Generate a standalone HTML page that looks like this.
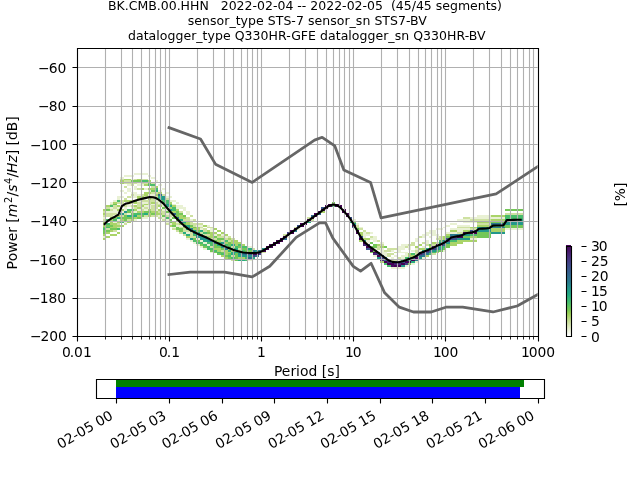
<!DOCTYPE html>
<html lang="en"><head><meta charset="utf-8"><title>BK.CMB.00.HHN PPSD</title>
<style>
html,body{margin:0;padding:0;background:#fff;}
body{width:640px;height:480px;overflow:hidden;}
svg{display:block;}
text{font-family:"DejaVu Sans","Liberation Sans",sans-serif;font-size:13.889px;fill:#000;}
.t9{font-size:12.5px;}
.g{stroke:#b0b0b0;stroke-width:1.111;fill:none;}
.k{stroke:#000;stroke-width:1.111;fill:none;}
.nm{stroke:#666;stroke-width:2.778;fill:none;stroke-linejoin:round;stroke-linecap:square;}
.mean{stroke:#000;stroke-width:2.083;fill:none;stroke-linejoin:round;stroke-linecap:square;}
</style></head><body>
<svg width="640" height="480" viewBox="0 0 640 480" role="img" aria-label="Probabilistic power spectral density of BK.CMB.00.HHN">
<defs><clipPath id="axclip"><rect x="76.8" y="48" width="460.8" height="288"/></clipPath>
<linearGradient id="cb" x1="0" y1="1" x2="0" y2="0">
<stop offset="0.000" stop-color="#ffffff"/>
<stop offset="0.037" stop-color="#f5f8eb"/>
<stop offset="0.073" stop-color="#e8f0d2"/>
<stop offset="0.110" stop-color="#dce8b9"/>
<stop offset="0.147" stop-color="#cde1a0"/>
<stop offset="0.183" stop-color="#beda87"/>
<stop offset="0.220" stop-color="#aad469"/>
<stop offset="0.253" stop-color="#96d055"/>
<stop offset="0.287" stop-color="#78c855"/>
<stop offset="0.333" stop-color="#5cc462"/>
<stop offset="0.393" stop-color="#3cb973"/>
<stop offset="0.453" stop-color="#23aa82"/>
<stop offset="0.527" stop-color="#23948c"/>
<stop offset="0.600" stop-color="#2a788e"/>
<stop offset="0.650" stop-color="#2f6c8e"/>
<stop offset="0.700" stop-color="#355f8d"/>
<stop offset="0.750" stop-color="#3b518b"/>
<stop offset="0.800" stop-color="#414487"/>
<stop offset="0.850" stop-color="#463480"/>
<stop offset="0.900" stop-color="#482475"/>
<stop offset="0.950" stop-color="#471365"/>
<stop offset="1.000" stop-color="#440154"/>
</linearGradient></defs>
<rect x="0" y="0" width="640" height="480" fill="#fff"/>
<g id="hist" shape-rendering="crispEdges">
<rect x="103" y="238" width="3" height="2" fill="#aad469"/>
<rect x="103" y="236" width="3" height="2" fill="#e9f1d4"/>
<rect x="103" y="234" width="3" height="2" fill="#aad469"/>
<rect x="103" y="230" width="3" height="4" fill="#74c757"/>
<rect x="103" y="228" width="3" height="2" fill="#49bd6c"/>
<rect x="103" y="227" width="3" height="1" fill="#74c757"/>
<rect x="103" y="225" width="3" height="2" fill="#aad469"/>
<rect x="103" y="223" width="3" height="2" fill="#cee1a1"/>
<rect x="103" y="221" width="3" height="2" fill="#aad469"/>
<rect x="103" y="219" width="3" height="2" fill="#cee1a1"/>
<rect x="103" y="217" width="3" height="2" fill="#e9f1d4"/>
<rect x="103" y="215" width="3" height="2" fill="#cee1a1"/>
<rect x="103" y="213" width="3" height="2" fill="#aad469"/>
<rect x="103" y="211" width="3" height="2" fill="#cee1a1"/>
<rect x="103" y="209" width="3" height="2" fill="#aad469"/>
<rect x="106" y="236" width="4" height="2" fill="#aad469"/>
<rect x="106" y="232" width="4" height="2" fill="#aad469"/>
<rect x="106" y="230" width="4" height="2" fill="#74c757"/>
<rect x="106" y="228" width="4" height="2" fill="#cee1a1"/>
<rect x="106" y="227" width="4" height="1" fill="#49bd6c"/>
<rect x="106" y="225" width="4" height="2" fill="#74c757"/>
<rect x="106" y="223" width="4" height="2" fill="#49bd6c"/>
<rect x="106" y="219" width="4" height="2" fill="#49bd6c"/>
<rect x="106" y="213" width="4" height="4" fill="#cee1a1"/>
<rect x="106" y="211" width="4" height="2" fill="#e9f1d4"/>
<rect x="106" y="209" width="4" height="2" fill="#74c757"/>
<rect x="106" y="207" width="4" height="2" fill="#cee1a1"/>
<rect x="106" y="205" width="4" height="2" fill="#aad469"/>
<rect x="110" y="234" width="3" height="2" fill="#aad469"/>
<rect x="110" y="230" width="3" height="2" fill="#aad469"/>
<rect x="110" y="228" width="3" height="2" fill="#74c757"/>
<rect x="110" y="227" width="3" height="1" fill="#aad469"/>
<rect x="110" y="225" width="3" height="2" fill="#74c757"/>
<rect x="110" y="217" width="3" height="8" fill="#aad469"/>
<rect x="110" y="213" width="3" height="4" fill="#cee1a1"/>
<rect x="110" y="211" width="3" height="2" fill="#e9f1d4"/>
<rect x="110" y="209" width="3" height="2" fill="#cee1a1"/>
<rect x="110" y="207" width="3" height="2" fill="#e9f1d4"/>
<rect x="110" y="205" width="3" height="2" fill="#49bd6c"/>
<rect x="110" y="204" width="3" height="1" fill="#cee1a1"/>
<rect x="110" y="202" width="3" height="2" fill="#e9f1d4"/>
<rect x="113" y="234" width="4" height="2" fill="#aad469"/>
<rect x="113" y="230" width="4" height="2" fill="#cee1a1"/>
<rect x="113" y="228" width="4" height="2" fill="#74c757"/>
<rect x="113" y="223" width="4" height="5" fill="#aad469"/>
<rect x="113" y="221" width="4" height="2" fill="#e9f1d4"/>
<rect x="113" y="219" width="4" height="2" fill="#49bd6c"/>
<rect x="113" y="217" width="4" height="2" fill="#74c757"/>
<rect x="113" y="215" width="4" height="2" fill="#e9f1d4"/>
<rect x="113" y="213" width="4" height="2" fill="#cee1a1"/>
<rect x="113" y="209" width="4" height="4" fill="#e9f1d4"/>
<rect x="113" y="205" width="4" height="4" fill="#cee1a1"/>
<rect x="113" y="204" width="4" height="1" fill="#74c757"/>
<rect x="113" y="202" width="4" height="2" fill="#aad469"/>
<rect x="113" y="200" width="4" height="2" fill="#e9f1d4"/>
<rect x="117" y="232" width="3" height="2" fill="#aad469"/>
<rect x="117" y="228" width="3" height="2" fill="#49bd6c"/>
<rect x="117" y="227" width="3" height="1" fill="#cee1a1"/>
<rect x="117" y="225" width="3" height="2" fill="#aad469"/>
<rect x="117" y="223" width="3" height="2" fill="#cee1a1"/>
<rect x="117" y="221" width="3" height="2" fill="#aad469"/>
<rect x="117" y="219" width="3" height="2" fill="#e9f1d4"/>
<rect x="117" y="217" width="3" height="2" fill="#27ac80"/>
<rect x="117" y="215" width="3" height="2" fill="#aad469"/>
<rect x="117" y="211" width="3" height="2" fill="#e9f1d4"/>
<rect x="117" y="209" width="3" height="2" fill="#aad469"/>
<rect x="117" y="207" width="3" height="2" fill="#e9f1d4"/>
<rect x="117" y="205" width="3" height="2" fill="#aad469"/>
<rect x="117" y="202" width="3" height="2" fill="#cee1a1"/>
<rect x="117" y="200" width="3" height="2" fill="#49bd6c"/>
<rect x="117" y="196" width="3" height="4" fill="#e9f1d4"/>
<rect x="120" y="225" width="4" height="2" fill="#aad469"/>
<rect x="120" y="221" width="4" height="2" fill="#49bd6c"/>
<rect x="120" y="219" width="4" height="2" fill="#aad469"/>
<rect x="120" y="217" width="4" height="2" fill="#74c757"/>
<rect x="120" y="215" width="4" height="2" fill="#cee1a1"/>
<rect x="120" y="213" width="4" height="2" fill="#23978b"/>
<rect x="120" y="211" width="4" height="2" fill="#e9f1d4"/>
<rect x="120" y="209" width="4" height="2" fill="#aad469"/>
<rect x="120" y="204" width="4" height="3" fill="#e9f1d4"/>
<rect x="120" y="200" width="4" height="4" fill="#cee1a1"/>
<rect x="120" y="196" width="4" height="2" fill="#e9f1d4"/>
<rect x="120" y="190" width="4" height="2" fill="#e9f1d4"/>
<rect x="120" y="180" width="4" height="4" fill="#aad469"/>
<rect x="120" y="179" width="4" height="1" fill="#cee1a1"/>
<rect x="120" y="177" width="4" height="2" fill="#e9f1d4"/>
<rect x="124" y="223" width="3" height="2" fill="#cee1a1"/>
<rect x="124" y="221" width="3" height="2" fill="#e9f1d4"/>
<rect x="124" y="215" width="3" height="6" fill="#74c757"/>
<rect x="124" y="213" width="3" height="2" fill="#cee1a1"/>
<rect x="124" y="211" width="3" height="2" fill="#23978b"/>
<rect x="124" y="207" width="3" height="4" fill="#e9f1d4"/>
<rect x="124" y="205" width="3" height="2" fill="#cee1a1"/>
<rect x="124" y="204" width="3" height="1" fill="#e9f1d4"/>
<rect x="124" y="200" width="3" height="2" fill="#aad469"/>
<rect x="124" y="198" width="3" height="2" fill="#cee1a1"/>
<rect x="124" y="192" width="3" height="2" fill="#e9f1d4"/>
<rect x="124" y="186" width="3" height="2" fill="#cee1a1"/>
<rect x="124" y="180" width="3" height="4" fill="#cee1a1"/>
<rect x="124" y="179" width="3" height="1" fill="#aad469"/>
<rect x="124" y="175" width="3" height="2" fill="#e9f1d4"/>
<rect x="127" y="221" width="4" height="2" fill="#aad469"/>
<rect x="127" y="219" width="4" height="2" fill="#cee1a1"/>
<rect x="127" y="217" width="4" height="2" fill="#74c757"/>
<rect x="127" y="215" width="4" height="2" fill="#27ac80"/>
<rect x="127" y="213" width="4" height="2" fill="#e9f1d4"/>
<rect x="127" y="211" width="4" height="2" fill="#74c757"/>
<rect x="127" y="209" width="4" height="2" fill="#49bd6c"/>
<rect x="127" y="204" width="4" height="3" fill="#e9f1d4"/>
<rect x="127" y="202" width="4" height="2" fill="#cee1a1"/>
<rect x="127" y="200" width="4" height="2" fill="#aad469"/>
<rect x="127" y="196" width="4" height="2" fill="#cee1a1"/>
<rect x="127" y="188" width="4" height="4" fill="#e9f1d4"/>
<rect x="127" y="184" width="4" height="2" fill="#e9f1d4"/>
<rect x="127" y="180" width="4" height="4" fill="#cee1a1"/>
<rect x="127" y="179" width="4" height="1" fill="#aad469"/>
<rect x="127" y="175" width="4" height="2" fill="#e9f1d4"/>
<rect x="131" y="219" width="3" height="2" fill="#aad469"/>
<rect x="131" y="217" width="3" height="2" fill="#74c757"/>
<rect x="131" y="215" width="3" height="2" fill="#49bd6c"/>
<rect x="131" y="213" width="3" height="2" fill="#74c757"/>
<rect x="131" y="211" width="3" height="2" fill="#cee1a1"/>
<rect x="131" y="209" width="3" height="2" fill="#49bd6c"/>
<rect x="131" y="207" width="3" height="2" fill="#e9f1d4"/>
<rect x="131" y="205" width="3" height="2" fill="#cee1a1"/>
<rect x="131" y="202" width="3" height="2" fill="#cee1a1"/>
<rect x="131" y="200" width="3" height="2" fill="#aad469"/>
<rect x="131" y="196" width="3" height="2" fill="#e9f1d4"/>
<rect x="131" y="194" width="3" height="2" fill="#cee1a1"/>
<rect x="131" y="192" width="3" height="2" fill="#e9f1d4"/>
<rect x="131" y="182" width="3" height="4" fill="#cee1a1"/>
<rect x="131" y="180" width="3" height="2" fill="#74c757"/>
<rect x="131" y="179" width="3" height="1" fill="#e9f1d4"/>
<rect x="131" y="175" width="3" height="2" fill="#e9f1d4"/>
<rect x="134" y="219" width="3" height="2" fill="#e9f1d4"/>
<rect x="134" y="217" width="3" height="2" fill="#aad469"/>
<rect x="134" y="215" width="3" height="2" fill="#27ac80"/>
<rect x="134" y="213" width="3" height="2" fill="#49bd6c"/>
<rect x="134" y="211" width="3" height="2" fill="#e9f1d4"/>
<rect x="134" y="209" width="3" height="2" fill="#aad469"/>
<rect x="134" y="207" width="3" height="2" fill="#cee1a1"/>
<rect x="134" y="205" width="3" height="2" fill="#aad469"/>
<rect x="134" y="202" width="3" height="2" fill="#aad469"/>
<rect x="134" y="200" width="3" height="2" fill="#74c757"/>
<rect x="134" y="192" width="3" height="6" fill="#e9f1d4"/>
<rect x="134" y="186" width="3" height="4" fill="#e9f1d4"/>
<rect x="134" y="182" width="3" height="2" fill="#cee1a1"/>
<rect x="134" y="180" width="3" height="2" fill="#74c757"/>
<rect x="134" y="179" width="3" height="1" fill="#cee1a1"/>
<rect x="134" y="173" width="3" height="2" fill="#e9f1d4"/>
<rect x="137" y="217" width="4" height="2" fill="#74c757"/>
<rect x="137" y="215" width="4" height="2" fill="#aad469"/>
<rect x="137" y="213" width="4" height="2" fill="#49bd6c"/>
<rect x="137" y="211" width="4" height="2" fill="#aad469"/>
<rect x="137" y="209" width="4" height="2" fill="#e9f1d4"/>
<rect x="137" y="207" width="4" height="2" fill="#aad469"/>
<rect x="137" y="202" width="4" height="5" fill="#cee1a1"/>
<rect x="137" y="200" width="4" height="2" fill="#e9f1d4"/>
<rect x="137" y="196" width="4" height="4" fill="#aad469"/>
<rect x="137" y="194" width="4" height="2" fill="#e9f1d4"/>
<rect x="137" y="188" width="4" height="2" fill="#cee1a1"/>
<rect x="137" y="182" width="4" height="4" fill="#e9f1d4"/>
<rect x="137" y="180" width="4" height="2" fill="#74c757"/>
<rect x="137" y="179" width="4" height="1" fill="#aad469"/>
<rect x="137" y="173" width="4" height="2" fill="#e9f1d4"/>
<rect x="141" y="217" width="3" height="2" fill="#e9f1d4"/>
<rect x="141" y="215" width="3" height="2" fill="#74c757"/>
<rect x="141" y="213" width="3" height="2" fill="#49bd6c"/>
<rect x="141" y="211" width="3" height="2" fill="#aad469"/>
<rect x="141" y="209" width="3" height="2" fill="#cee1a1"/>
<rect x="141" y="207" width="3" height="2" fill="#e9f1d4"/>
<rect x="141" y="205" width="3" height="2" fill="#aad469"/>
<rect x="141" y="204" width="3" height="1" fill="#cee1a1"/>
<rect x="141" y="202" width="3" height="2" fill="#e9f1d4"/>
<rect x="141" y="198" width="3" height="4" fill="#cee1a1"/>
<rect x="141" y="196" width="3" height="2" fill="#aad469"/>
<rect x="141" y="194" width="3" height="2" fill="#cee1a1"/>
<rect x="141" y="188" width="3" height="2" fill="#aad469"/>
<rect x="141" y="184" width="3" height="2" fill="#e9f1d4"/>
<rect x="141" y="182" width="3" height="2" fill="#cee1a1"/>
<rect x="141" y="180" width="3" height="2" fill="#49bd6c"/>
<rect x="141" y="179" width="3" height="1" fill="#cee1a1"/>
<rect x="141" y="173" width="3" height="2" fill="#e9f1d4"/>
<rect x="144" y="217" width="4" height="2" fill="#e9f1d4"/>
<rect x="144" y="215" width="4" height="2" fill="#cee1a1"/>
<rect x="144" y="213" width="4" height="2" fill="#27ac80"/>
<rect x="144" y="211" width="4" height="2" fill="#74c757"/>
<rect x="144" y="209" width="4" height="2" fill="#e9f1d4"/>
<rect x="144" y="207" width="4" height="2" fill="#cee1a1"/>
<rect x="144" y="205" width="4" height="2" fill="#e9f1d4"/>
<rect x="144" y="204" width="4" height="1" fill="#aad469"/>
<rect x="144" y="202" width="4" height="2" fill="#e9f1d4"/>
<rect x="144" y="200" width="4" height="2" fill="#cee1a1"/>
<rect x="144" y="196" width="4" height="2" fill="#cee1a1"/>
<rect x="144" y="192" width="4" height="4" fill="#aad469"/>
<rect x="144" y="188" width="4" height="2" fill="#e9f1d4"/>
<rect x="144" y="184" width="4" height="2" fill="#aad469"/>
<rect x="144" y="182" width="4" height="2" fill="#cee1a1"/>
<rect x="144" y="180" width="4" height="2" fill="#49bd6c"/>
<rect x="144" y="179" width="4" height="1" fill="#cee1a1"/>
<rect x="144" y="173" width="4" height="2" fill="#e9f1d4"/>
<rect x="148" y="213" width="3" height="4" fill="#aad469"/>
<rect x="148" y="211" width="3" height="2" fill="#74c757"/>
<rect x="148" y="209" width="3" height="2" fill="#aad469"/>
<rect x="148" y="205" width="3" height="4" fill="#e9f1d4"/>
<rect x="148" y="200" width="3" height="5" fill="#cee1a1"/>
<rect x="148" y="198" width="3" height="2" fill="#aad469"/>
<rect x="148" y="194" width="3" height="2" fill="#e9f1d4"/>
<rect x="148" y="192" width="3" height="2" fill="#aad469"/>
<rect x="148" y="190" width="3" height="2" fill="#e9f1d4"/>
<rect x="148" y="188" width="3" height="2" fill="#aad469"/>
<rect x="148" y="184" width="3" height="2" fill="#49bd6c"/>
<rect x="148" y="182" width="3" height="2" fill="#74c757"/>
<rect x="148" y="180" width="3" height="2" fill="#aad469"/>
<rect x="148" y="175" width="3" height="2" fill="#e9f1d4"/>
<rect x="151" y="215" width="4" height="2" fill="#cee1a1"/>
<rect x="151" y="213" width="4" height="2" fill="#74c757"/>
<rect x="151" y="211" width="4" height="2" fill="#aad469"/>
<rect x="151" y="205" width="4" height="6" fill="#cee1a1"/>
<rect x="151" y="204" width="4" height="1" fill="#e9f1d4"/>
<rect x="151" y="202" width="4" height="2" fill="#aad469"/>
<rect x="151" y="196" width="4" height="6" fill="#cee1a1"/>
<rect x="151" y="194" width="4" height="2" fill="#e9f1d4"/>
<rect x="151" y="192" width="4" height="2" fill="#cee1a1"/>
<rect x="151" y="190" width="4" height="2" fill="#74c757"/>
<rect x="151" y="188" width="4" height="2" fill="#aad469"/>
<rect x="151" y="186" width="4" height="2" fill="#cee1a1"/>
<rect x="151" y="184" width="4" height="2" fill="#49bd6c"/>
<rect x="151" y="182" width="4" height="2" fill="#cee1a1"/>
<rect x="151" y="177" width="4" height="2" fill="#e9f1d4"/>
<rect x="155" y="215" width="3" height="2" fill="#cee1a1"/>
<rect x="155" y="211" width="3" height="4" fill="#aad469"/>
<rect x="155" y="209" width="3" height="2" fill="#e9f1d4"/>
<rect x="155" y="202" width="3" height="7" fill="#cee1a1"/>
<rect x="155" y="200" width="3" height="2" fill="#e9f1d4"/>
<rect x="155" y="198" width="3" height="2" fill="#49bd6c"/>
<rect x="155" y="196" width="3" height="2" fill="#cee1a1"/>
<rect x="155" y="194" width="3" height="2" fill="#aad469"/>
<rect x="155" y="192" width="3" height="2" fill="#cee1a1"/>
<rect x="155" y="190" width="3" height="2" fill="#27ac80"/>
<rect x="155" y="188" width="3" height="2" fill="#49bd6c"/>
<rect x="155" y="186" width="3" height="2" fill="#aad469"/>
<rect x="155" y="180" width="3" height="2" fill="#e9f1d4"/>
<rect x="158" y="217" width="4" height="2" fill="#cee1a1"/>
<rect x="158" y="215" width="4" height="2" fill="#e9f1d4"/>
<rect x="158" y="213" width="4" height="2" fill="#aad469"/>
<rect x="158" y="211" width="4" height="2" fill="#cee1a1"/>
<rect x="158" y="209" width="4" height="2" fill="#aad469"/>
<rect x="158" y="205" width="4" height="2" fill="#aad469"/>
<rect x="158" y="204" width="4" height="1" fill="#cee1a1"/>
<rect x="158" y="202" width="4" height="2" fill="#e9f1d4"/>
<rect x="158" y="200" width="4" height="2" fill="#cee1a1"/>
<rect x="158" y="196" width="4" height="4" fill="#27ac80"/>
<rect x="158" y="194" width="4" height="2" fill="#31688e"/>
<rect x="158" y="192" width="4" height="2" fill="#aad469"/>
<rect x="158" y="190" width="4" height="2" fill="#e9f1d4"/>
<rect x="158" y="184" width="4" height="2" fill="#e9f1d4"/>
<rect x="162" y="219" width="3" height="2" fill="#cee1a1"/>
<rect x="162" y="217" width="3" height="2" fill="#e9f1d4"/>
<rect x="162" y="215" width="3" height="2" fill="#74c757"/>
<rect x="162" y="211" width="3" height="4" fill="#cee1a1"/>
<rect x="162" y="209" width="3" height="2" fill="#e9f1d4"/>
<rect x="162" y="207" width="3" height="2" fill="#74c757"/>
<rect x="162" y="204" width="3" height="3" fill="#e9f1d4"/>
<rect x="162" y="200" width="3" height="4" fill="#49bd6c"/>
<rect x="162" y="196" width="3" height="4" fill="#23978b"/>
<rect x="162" y="194" width="3" height="2" fill="#cee1a1"/>
<rect x="162" y="188" width="3" height="2" fill="#e9f1d4"/>
<rect x="165" y="223" width="4" height="2" fill="#cee1a1"/>
<rect x="165" y="219" width="4" height="4" fill="#e9f1d4"/>
<rect x="165" y="217" width="4" height="2" fill="#49bd6c"/>
<rect x="165" y="215" width="4" height="2" fill="#cee1a1"/>
<rect x="165" y="213" width="4" height="2" fill="#e9f1d4"/>
<rect x="165" y="211" width="4" height="2" fill="#74c757"/>
<rect x="165" y="207" width="4" height="4" fill="#e9f1d4"/>
<rect x="165" y="205" width="4" height="2" fill="#27ac80"/>
<rect x="165" y="204" width="4" height="1" fill="#23978b"/>
<rect x="165" y="200" width="4" height="4" fill="#49bd6c"/>
<rect x="165" y="198" width="4" height="2" fill="#cee1a1"/>
<rect x="165" y="196" width="4" height="2" fill="#e9f1d4"/>
<rect x="165" y="192" width="4" height="2" fill="#e9f1d4"/>
<rect x="169" y="225" width="3" height="2" fill="#aad469"/>
<rect x="169" y="223" width="3" height="2" fill="#e9f1d4"/>
<rect x="169" y="219" width="3" height="4" fill="#74c757"/>
<rect x="169" y="217" width="3" height="2" fill="#e9f1d4"/>
<rect x="169" y="213" width="3" height="4" fill="#cee1a1"/>
<rect x="169" y="211" width="3" height="2" fill="#aad469"/>
<rect x="169" y="209" width="3" height="2" fill="#23978b"/>
<rect x="169" y="207" width="3" height="2" fill="#aad469"/>
<rect x="169" y="205" width="3" height="2" fill="#27ac80"/>
<rect x="169" y="204" width="3" height="1" fill="#74c757"/>
<rect x="169" y="202" width="3" height="2" fill="#aad469"/>
<rect x="169" y="200" width="3" height="2" fill="#e9f1d4"/>
<rect x="169" y="196" width="3" height="2" fill="#e9f1d4"/>
<rect x="172" y="228" width="4" height="2" fill="#cee1a1"/>
<rect x="172" y="227" width="4" height="1" fill="#e9f1d4"/>
<rect x="172" y="225" width="4" height="2" fill="#74c757"/>
<rect x="172" y="221" width="4" height="4" fill="#aad469"/>
<rect x="172" y="217" width="4" height="2" fill="#74c757"/>
<rect x="172" y="215" width="4" height="2" fill="#e9f1d4"/>
<rect x="172" y="213" width="4" height="2" fill="#31688e"/>
<rect x="172" y="211" width="4" height="2" fill="#aad469"/>
<rect x="172" y="207" width="4" height="4" fill="#49bd6c"/>
<rect x="172" y="205" width="4" height="2" fill="#aad469"/>
<rect x="172" y="204" width="4" height="1" fill="#e9f1d4"/>
<rect x="172" y="200" width="4" height="2" fill="#e9f1d4"/>
<rect x="176" y="230" width="3" height="2" fill="#cee1a1"/>
<rect x="176" y="227" width="3" height="3" fill="#74c757"/>
<rect x="176" y="225" width="3" height="2" fill="#e9f1d4"/>
<rect x="176" y="223" width="3" height="2" fill="#cee1a1"/>
<rect x="176" y="221" width="3" height="2" fill="#e9f1d4"/>
<rect x="176" y="219" width="3" height="2" fill="#74c757"/>
<rect x="176" y="217" width="3" height="2" fill="#31688e"/>
<rect x="176" y="211" width="3" height="6" fill="#74c757"/>
<rect x="176" y="209" width="3" height="2" fill="#aad469"/>
<rect x="176" y="205" width="3" height="4" fill="#e9f1d4"/>
<rect x="176" y="202" width="3" height="2" fill="#e9f1d4"/>
<rect x="179" y="232" width="4" height="2" fill="#cee1a1"/>
<rect x="179" y="228" width="4" height="4" fill="#74c757"/>
<rect x="179" y="227" width="4" height="1" fill="#cee1a1"/>
<rect x="179" y="225" width="4" height="2" fill="#e9f1d4"/>
<rect x="179" y="223" width="4" height="2" fill="#aad469"/>
<rect x="179" y="221" width="4" height="2" fill="#31688e"/>
<rect x="179" y="219" width="4" height="2" fill="#27ac80"/>
<rect x="179" y="215" width="4" height="4" fill="#aad469"/>
<rect x="179" y="213" width="4" height="2" fill="#74c757"/>
<rect x="179" y="211" width="4" height="2" fill="#cee1a1"/>
<rect x="179" y="205" width="4" height="4" fill="#e9f1d4"/>
<rect x="183" y="234" width="3" height="2" fill="#cee1a1"/>
<rect x="183" y="232" width="3" height="2" fill="#27ac80"/>
<rect x="183" y="228" width="3" height="4" fill="#cee1a1"/>
<rect x="183" y="227" width="3" height="1" fill="#aad469"/>
<rect x="183" y="225" width="3" height="2" fill="#31688e"/>
<rect x="183" y="223" width="3" height="2" fill="#74c757"/>
<rect x="183" y="221" width="3" height="2" fill="#27ac80"/>
<rect x="183" y="219" width="3" height="2" fill="#cee1a1"/>
<rect x="183" y="217" width="3" height="2" fill="#aad469"/>
<rect x="183" y="215" width="3" height="2" fill="#74c757"/>
<rect x="183" y="207" width="3" height="4" fill="#e9f1d4"/>
<rect x="186" y="238" width="4" height="2" fill="#e9f1d4"/>
<rect x="186" y="236" width="4" height="2" fill="#aad469"/>
<rect x="186" y="234" width="4" height="2" fill="#27ac80"/>
<rect x="186" y="232" width="4" height="2" fill="#e9f1d4"/>
<rect x="186" y="230" width="4" height="2" fill="#cee1a1"/>
<rect x="186" y="228" width="4" height="2" fill="#27ac80"/>
<rect x="186" y="227" width="4" height="1" fill="#297b8e"/>
<rect x="186" y="225" width="4" height="2" fill="#27ac80"/>
<rect x="186" y="221" width="4" height="4" fill="#aad469"/>
<rect x="186" y="217" width="4" height="4" fill="#cee1a1"/>
<rect x="186" y="211" width="4" height="4" fill="#e9f1d4"/>
<rect x="190" y="240" width="3" height="2" fill="#e9f1d4"/>
<rect x="190" y="238" width="3" height="2" fill="#23978b"/>
<rect x="190" y="232" width="3" height="6" fill="#cee1a1"/>
<rect x="190" y="230" width="3" height="2" fill="#31688e"/>
<rect x="190" y="228" width="3" height="2" fill="#297b8e"/>
<rect x="190" y="227" width="3" height="1" fill="#aad469"/>
<rect x="190" y="225" width="3" height="2" fill="#74c757"/>
<rect x="190" y="221" width="3" height="4" fill="#cee1a1"/>
<rect x="190" y="219" width="3" height="2" fill="#e9f1d4"/>
<rect x="190" y="215" width="3" height="2" fill="#cee1a1"/>
<rect x="193" y="242" width="3" height="2" fill="#e9f1d4"/>
<rect x="193" y="240" width="3" height="2" fill="#49bd6c"/>
<rect x="193" y="238" width="3" height="2" fill="#74c757"/>
<rect x="193" y="236" width="3" height="2" fill="#cee1a1"/>
<rect x="193" y="234" width="3" height="2" fill="#49bd6c"/>
<rect x="193" y="232" width="3" height="2" fill="#297b8e"/>
<rect x="193" y="230" width="3" height="2" fill="#23978b"/>
<rect x="193" y="228" width="3" height="2" fill="#aad469"/>
<rect x="193" y="227" width="3" height="1" fill="#74c757"/>
<rect x="193" y="223" width="3" height="4" fill="#cee1a1"/>
<rect x="193" y="219" width="3" height="2" fill="#cee1a1"/>
<rect x="196" y="244" width="4" height="2" fill="#e9f1d4"/>
<rect x="196" y="242" width="4" height="2" fill="#49bd6c"/>
<rect x="196" y="240" width="4" height="2" fill="#74c757"/>
<rect x="196" y="238" width="4" height="2" fill="#e9f1d4"/>
<rect x="196" y="236" width="4" height="2" fill="#23978b"/>
<rect x="196" y="234" width="4" height="2" fill="#297b8e"/>
<rect x="196" y="232" width="4" height="2" fill="#27ac80"/>
<rect x="196" y="230" width="4" height="2" fill="#74c757"/>
<rect x="196" y="227" width="4" height="3" fill="#aad469"/>
<rect x="196" y="225" width="4" height="2" fill="#e9f1d4"/>
<rect x="196" y="223" width="4" height="2" fill="#cee1a1"/>
<rect x="200" y="246" width="3" height="2" fill="#e9f1d4"/>
<rect x="200" y="244" width="3" height="2" fill="#74c757"/>
<rect x="200" y="242" width="3" height="2" fill="#49bd6c"/>
<rect x="200" y="240" width="3" height="2" fill="#e9f1d4"/>
<rect x="200" y="236" width="3" height="4" fill="#23978b"/>
<rect x="200" y="234" width="3" height="2" fill="#27ac80"/>
<rect x="200" y="232" width="3" height="2" fill="#cee1a1"/>
<rect x="200" y="230" width="3" height="2" fill="#27ac80"/>
<rect x="200" y="228" width="3" height="2" fill="#e9f1d4"/>
<rect x="200" y="227" width="3" height="1" fill="#cee1a1"/>
<rect x="200" y="225" width="3" height="2" fill="#e9f1d4"/>
<rect x="200" y="223" width="3" height="2" fill="#cee1a1"/>
<rect x="203" y="248" width="4" height="2" fill="#e9f1d4"/>
<rect x="203" y="246" width="4" height="2" fill="#74c757"/>
<rect x="203" y="244" width="4" height="2" fill="#49bd6c"/>
<rect x="203" y="242" width="4" height="2" fill="#e9f1d4"/>
<rect x="203" y="240" width="4" height="2" fill="#27ac80"/>
<rect x="203" y="236" width="4" height="4" fill="#23978b"/>
<rect x="203" y="234" width="4" height="2" fill="#cee1a1"/>
<rect x="203" y="232" width="4" height="2" fill="#49bd6c"/>
<rect x="203" y="228" width="4" height="4" fill="#cee1a1"/>
<rect x="203" y="225" width="4" height="2" fill="#aad469"/>
<rect x="207" y="246" width="3" height="4" fill="#49bd6c"/>
<rect x="207" y="244" width="3" height="2" fill="#e9f1d4"/>
<rect x="207" y="242" width="3" height="2" fill="#49bd6c"/>
<rect x="207" y="238" width="3" height="4" fill="#23978b"/>
<rect x="207" y="236" width="3" height="2" fill="#aad469"/>
<rect x="207" y="234" width="3" height="2" fill="#cee1a1"/>
<rect x="207" y="232" width="3" height="2" fill="#74c757"/>
<rect x="207" y="230" width="3" height="2" fill="#aad469"/>
<rect x="207" y="227" width="3" height="1" fill="#cee1a1"/>
<rect x="207" y="225" width="3" height="2" fill="#e9f1d4"/>
<rect x="210" y="252" width="4" height="1" fill="#e9f1d4"/>
<rect x="210" y="250" width="4" height="2" fill="#74c757"/>
<rect x="210" y="248" width="4" height="2" fill="#49bd6c"/>
<rect x="210" y="246" width="4" height="2" fill="#cee1a1"/>
<rect x="210" y="242" width="4" height="4" fill="#49bd6c"/>
<rect x="210" y="240" width="4" height="2" fill="#297b8e"/>
<rect x="210" y="238" width="4" height="2" fill="#cee1a1"/>
<rect x="210" y="232" width="4" height="6" fill="#aad469"/>
<rect x="210" y="228" width="4" height="4" fill="#e9f1d4"/>
<rect x="210" y="227" width="4" height="1" fill="#cee1a1"/>
<rect x="214" y="252" width="3" height="1" fill="#74c757"/>
<rect x="214" y="250" width="3" height="2" fill="#49bd6c"/>
<rect x="214" y="248" width="3" height="2" fill="#aad469"/>
<rect x="214" y="244" width="3" height="4" fill="#74c757"/>
<rect x="214" y="242" width="3" height="2" fill="#297b8e"/>
<rect x="214" y="240" width="3" height="2" fill="#74c757"/>
<rect x="214" y="238" width="3" height="2" fill="#cee1a1"/>
<rect x="214" y="236" width="3" height="2" fill="#74c757"/>
<rect x="214" y="234" width="3" height="2" fill="#e9f1d4"/>
<rect x="214" y="232" width="3" height="2" fill="#aad469"/>
<rect x="214" y="228" width="3" height="2" fill="#aad469"/>
<rect x="217" y="253" width="4" height="2" fill="#74c757"/>
<rect x="217" y="252" width="4" height="1" fill="#49bd6c"/>
<rect x="217" y="248" width="4" height="4" fill="#aad469"/>
<rect x="217" y="246" width="4" height="2" fill="#74c757"/>
<rect x="217" y="244" width="4" height="2" fill="#27ac80"/>
<rect x="217" y="242" width="4" height="2" fill="#49bd6c"/>
<rect x="217" y="240" width="4" height="2" fill="#aad469"/>
<rect x="217" y="238" width="4" height="2" fill="#74c757"/>
<rect x="217" y="236" width="4" height="2" fill="#cee1a1"/>
<rect x="217" y="234" width="4" height="2" fill="#aad469"/>
<rect x="217" y="230" width="4" height="2" fill="#aad469"/>
<rect x="221" y="255" width="3" height="2" fill="#aad469"/>
<rect x="221" y="253" width="3" height="2" fill="#49bd6c"/>
<rect x="221" y="252" width="3" height="1" fill="#74c757"/>
<rect x="221" y="250" width="3" height="2" fill="#cee1a1"/>
<rect x="221" y="248" width="3" height="2" fill="#74c757"/>
<rect x="221" y="246" width="3" height="2" fill="#23978b"/>
<rect x="221" y="244" width="3" height="2" fill="#e9f1d4"/>
<rect x="221" y="242" width="3" height="2" fill="#23978b"/>
<rect x="221" y="240" width="3" height="2" fill="#cee1a1"/>
<rect x="221" y="238" width="3" height="2" fill="#74c757"/>
<rect x="221" y="236" width="3" height="2" fill="#cee1a1"/>
<rect x="221" y="234" width="3" height="2" fill="#e9f1d4"/>
<rect x="221" y="232" width="3" height="2" fill="#aad469"/>
<rect x="224" y="257" width="4" height="2" fill="#aad469"/>
<rect x="224" y="255" width="4" height="2" fill="#74c757"/>
<rect x="224" y="250" width="4" height="5" fill="#aad469"/>
<rect x="224" y="248" width="4" height="2" fill="#297b8e"/>
<rect x="224" y="246" width="4" height="2" fill="#cee1a1"/>
<rect x="224" y="244" width="4" height="2" fill="#49bd6c"/>
<rect x="224" y="242" width="4" height="2" fill="#aad469"/>
<rect x="224" y="240" width="4" height="2" fill="#49bd6c"/>
<rect x="224" y="238" width="4" height="2" fill="#cee1a1"/>
<rect x="224" y="236" width="4" height="2" fill="#e9f1d4"/>
<rect x="224" y="234" width="4" height="2" fill="#aad469"/>
<rect x="228" y="257" width="3" height="2" fill="#74c757"/>
<rect x="228" y="255" width="3" height="2" fill="#49bd6c"/>
<rect x="228" y="253" width="3" height="2" fill="#74c757"/>
<rect x="228" y="252" width="3" height="1" fill="#aad469"/>
<rect x="228" y="250" width="3" height="2" fill="#27ac80"/>
<rect x="228" y="248" width="3" height="2" fill="#aad469"/>
<rect x="228" y="246" width="3" height="2" fill="#49bd6c"/>
<rect x="228" y="242" width="3" height="4" fill="#74c757"/>
<rect x="228" y="240" width="3" height="2" fill="#cee1a1"/>
<rect x="228" y="238" width="3" height="2" fill="#aad469"/>
<rect x="228" y="236" width="3" height="2" fill="#cee1a1"/>
<rect x="231" y="259" width="4" height="2" fill="#cee1a1"/>
<rect x="231" y="257" width="4" height="2" fill="#49bd6c"/>
<rect x="231" y="255" width="4" height="2" fill="#cee1a1"/>
<rect x="231" y="252" width="4" height="3" fill="#27ac80"/>
<rect x="231" y="250" width="4" height="2" fill="#aad469"/>
<rect x="231" y="248" width="4" height="2" fill="#49bd6c"/>
<rect x="231" y="246" width="4" height="2" fill="#cee1a1"/>
<rect x="231" y="244" width="4" height="2" fill="#27ac80"/>
<rect x="231" y="240" width="4" height="4" fill="#aad469"/>
<rect x="231" y="238" width="4" height="2" fill="#cee1a1"/>
<rect x="235" y="253" width="3" height="8" fill="#74c757"/>
<rect x="235" y="252" width="3" height="1" fill="#27ac80"/>
<rect x="235" y="250" width="3" height="2" fill="#aad469"/>
<rect x="235" y="248" width="3" height="2" fill="#27ac80"/>
<rect x="235" y="246" width="3" height="2" fill="#49bd6c"/>
<rect x="235" y="240" width="3" height="6" fill="#aad469"/>
<rect x="238" y="259" width="4" height="2" fill="#27ac80"/>
<rect x="238" y="257" width="4" height="2" fill="#aad469"/>
<rect x="238" y="255" width="4" height="2" fill="#27ac80"/>
<rect x="238" y="253" width="4" height="2" fill="#23978b"/>
<rect x="238" y="252" width="4" height="1" fill="#49bd6c"/>
<rect x="238" y="250" width="4" height="2" fill="#74c757"/>
<rect x="238" y="248" width="4" height="2" fill="#cee1a1"/>
<rect x="238" y="246" width="4" height="2" fill="#74c757"/>
<rect x="238" y="244" width="4" height="2" fill="#49bd6c"/>
<rect x="238" y="242" width="4" height="2" fill="#aad469"/>
<rect x="242" y="259" width="3" height="2" fill="#27ac80"/>
<rect x="242" y="257" width="3" height="2" fill="#aad469"/>
<rect x="242" y="255" width="3" height="2" fill="#23978b"/>
<rect x="242" y="253" width="3" height="2" fill="#297b8e"/>
<rect x="242" y="252" width="3" height="1" fill="#74c757"/>
<rect x="242" y="250" width="3" height="2" fill="#49bd6c"/>
<rect x="242" y="248" width="3" height="2" fill="#74c757"/>
<rect x="242" y="246" width="3" height="2" fill="#49bd6c"/>
<rect x="242" y="244" width="3" height="2" fill="#aad469"/>
<rect x="245" y="257" width="3" height="4" fill="#49bd6c"/>
<rect x="245" y="255" width="3" height="2" fill="#23978b"/>
<rect x="245" y="253" width="3" height="2" fill="#31688e"/>
<rect x="245" y="252" width="3" height="1" fill="#27ac80"/>
<rect x="245" y="248" width="3" height="4" fill="#74c757"/>
<rect x="245" y="246" width="3" height="2" fill="#49bd6c"/>
<rect x="248" y="259" width="4" height="2" fill="#e9f1d4"/>
<rect x="248" y="257" width="4" height="2" fill="#31688e"/>
<rect x="248" y="255" width="4" height="2" fill="#23978b"/>
<rect x="248" y="253" width="4" height="2" fill="#3a538b"/>
<rect x="248" y="252" width="4" height="1" fill="#23978b"/>
<rect x="248" y="250" width="4" height="2" fill="#74c757"/>
<rect x="248" y="248" width="4" height="2" fill="#27ac80"/>
<rect x="248" y="246" width="4" height="2" fill="#e9f1d4"/>
<rect x="252" y="257" width="3" height="2" fill="#27ac80"/>
<rect x="252" y="255" width="3" height="2" fill="#433f85"/>
<rect x="252" y="253" width="3" height="2" fill="#460e60"/>
<rect x="252" y="252" width="3" height="1" fill="#49bd6c"/>
<rect x="252" y="250" width="3" height="2" fill="#297b8e"/>
<rect x="252" y="248" width="3" height="2" fill="#cee1a1"/>
<rect x="255" y="255" width="4" height="2" fill="#31688e"/>
<rect x="255" y="252" width="4" height="3" fill="#440154"/>
<rect x="255" y="250" width="4" height="2" fill="#23978b"/>
<rect x="259" y="253" width="3" height="2" fill="#433f85"/>
<rect x="259" y="252" width="3" height="1" fill="#440154"/>
<rect x="259" y="250" width="3" height="2" fill="#31688e"/>
<rect x="262" y="252" width="4" height="1" fill="#cee1a1"/>
<rect x="262" y="250" width="4" height="2" fill="#440154"/>
<rect x="262" y="248" width="4" height="2" fill="#23978b"/>
<rect x="266" y="246" width="3" height="4" fill="#440154"/>
<rect x="269" y="244" width="4" height="4" fill="#440154"/>
<rect x="273" y="242" width="3" height="4" fill="#440154"/>
<rect x="276" y="240" width="4" height="4" fill="#440154"/>
<rect x="280" y="238" width="3" height="4" fill="#440154"/>
<rect x="283" y="238" width="4" height="2" fill="#31688e"/>
<rect x="283" y="236" width="4" height="2" fill="#440154"/>
<rect x="283" y="234" width="4" height="2" fill="#cee1a1"/>
<rect x="287" y="236" width="3" height="2" fill="#e9f1d4"/>
<rect x="287" y="234" width="3" height="2" fill="#440154"/>
<rect x="287" y="232" width="3" height="2" fill="#433f85"/>
<rect x="290" y="230" width="4" height="4" fill="#440154"/>
<rect x="294" y="230" width="3" height="2" fill="#297b8e"/>
<rect x="294" y="228" width="3" height="2" fill="#440154"/>
<rect x="294" y="227" width="3" height="1" fill="#cee1a1"/>
<rect x="297" y="228" width="3" height="2" fill="#e9f1d4"/>
<rect x="297" y="227" width="3" height="1" fill="#440154"/>
<rect x="297" y="225" width="3" height="2" fill="#3a538b"/>
<rect x="300" y="223" width="4" height="4" fill="#440154"/>
<rect x="304" y="221" width="3" height="4" fill="#440154"/>
<rect x="307" y="221" width="4" height="2" fill="#27ac80"/>
<rect x="307" y="219" width="4" height="2" fill="#440154"/>
<rect x="307" y="217" width="4" height="2" fill="#cee1a1"/>
<rect x="311" y="219" width="3" height="2" fill="#cee1a1"/>
<rect x="311" y="217" width="3" height="2" fill="#440154"/>
<rect x="311" y="215" width="3" height="2" fill="#31688e"/>
<rect x="314" y="213" width="4" height="4" fill="#440154"/>
<rect x="318" y="213" width="3" height="2" fill="#31688e"/>
<rect x="318" y="211" width="3" height="2" fill="#440154"/>
<rect x="321" y="211" width="4" height="2" fill="#aad469"/>
<rect x="321" y="209" width="4" height="2" fill="#440154"/>
<rect x="321" y="207" width="4" height="2" fill="#3a538b"/>
<rect x="325" y="205" width="3" height="4" fill="#440154"/>
<rect x="328" y="204" width="4" height="3" fill="#440154"/>
<rect x="332" y="205" width="3" height="2" fill="#49bd6c"/>
<rect x="332" y="204" width="3" height="1" fill="#440154"/>
<rect x="332" y="202" width="3" height="2" fill="#74c757"/>
<rect x="335" y="204" width="4" height="3" fill="#440154"/>
<rect x="339" y="205" width="3" height="4" fill="#440154"/>
<rect x="342" y="209" width="4" height="4" fill="#440154"/>
<rect x="346" y="213" width="3" height="4" fill="#440154"/>
<rect x="349" y="221" width="3" height="2" fill="#27ac80"/>
<rect x="349" y="219" width="3" height="2" fill="#440154"/>
<rect x="349" y="217" width="3" height="2" fill="#3a538b"/>
<rect x="352" y="227" width="4" height="1" fill="#31688e"/>
<rect x="352" y="225" width="4" height="2" fill="#440154"/>
<rect x="352" y="223" width="4" height="2" fill="#23978b"/>
<rect x="352" y="221" width="4" height="2" fill="#74c757"/>
<rect x="352" y="219" width="4" height="2" fill="#e9f1d4"/>
<rect x="356" y="230" width="3" height="4" fill="#440154"/>
<rect x="356" y="228" width="3" height="2" fill="#74c757"/>
<rect x="356" y="225" width="3" height="3" fill="#cee1a1"/>
<rect x="356" y="223" width="3" height="2" fill="#e9f1d4"/>
<rect x="359" y="240" width="4" height="2" fill="#aad469"/>
<rect x="359" y="238" width="4" height="2" fill="#440154"/>
<rect x="359" y="236" width="4" height="2" fill="#3a538b"/>
<rect x="359" y="232" width="4" height="4" fill="#aad469"/>
<rect x="359" y="228" width="4" height="2" fill="#cee1a1"/>
<rect x="359" y="227" width="4" height="1" fill="#e9f1d4"/>
<rect x="363" y="244" width="3" height="2" fill="#482777"/>
<rect x="363" y="242" width="3" height="2" fill="#440154"/>
<rect x="363" y="240" width="3" height="2" fill="#23978b"/>
<rect x="363" y="238" width="3" height="2" fill="#aad469"/>
<rect x="363" y="232" width="3" height="6" fill="#e9f1d4"/>
<rect x="363" y="230" width="3" height="2" fill="#cee1a1"/>
<rect x="366" y="248" width="4" height="2" fill="#3a538b"/>
<rect x="366" y="246" width="4" height="2" fill="#440154"/>
<rect x="366" y="244" width="4" height="2" fill="#433f85"/>
<rect x="366" y="240" width="4" height="4" fill="#e9f1d4"/>
<rect x="366" y="238" width="4" height="2" fill="#aad469"/>
<rect x="366" y="234" width="4" height="2" fill="#e9f1d4"/>
<rect x="366" y="232" width="4" height="2" fill="#cee1a1"/>
<rect x="370" y="252" width="3" height="1" fill="#74c757"/>
<rect x="370" y="250" width="3" height="2" fill="#440154"/>
<rect x="370" y="248" width="3" height="2" fill="#460e60"/>
<rect x="370" y="246" width="3" height="2" fill="#74c757"/>
<rect x="370" y="242" width="3" height="2" fill="#74c757"/>
<rect x="370" y="238" width="3" height="2" fill="#e9f1d4"/>
<rect x="370" y="236" width="3" height="2" fill="#cee1a1"/>
<rect x="370" y="232" width="3" height="2" fill="#e9f1d4"/>
<rect x="373" y="255" width="4" height="2" fill="#e9f1d4"/>
<rect x="373" y="253" width="4" height="2" fill="#482777"/>
<rect x="373" y="252" width="4" height="1" fill="#440154"/>
<rect x="373" y="250" width="4" height="2" fill="#74c757"/>
<rect x="373" y="248" width="4" height="2" fill="#e9f1d4"/>
<rect x="373" y="244" width="4" height="4" fill="#74c757"/>
<rect x="373" y="236" width="4" height="6" fill="#e9f1d4"/>
<rect x="377" y="257" width="3" height="2" fill="#23978b"/>
<rect x="377" y="255" width="3" height="2" fill="#440154"/>
<rect x="377" y="253" width="3" height="2" fill="#3a538b"/>
<rect x="377" y="252" width="3" height="1" fill="#49bd6c"/>
<rect x="377" y="246" width="3" height="4" fill="#cee1a1"/>
<rect x="377" y="244" width="3" height="2" fill="#aad469"/>
<rect x="377" y="240" width="3" height="2" fill="#cee1a1"/>
<rect x="380" y="261" width="4" height="2" fill="#aad469"/>
<rect x="380" y="259" width="4" height="2" fill="#482777"/>
<rect x="380" y="257" width="4" height="2" fill="#433f85"/>
<rect x="380" y="255" width="4" height="2" fill="#31688e"/>
<rect x="380" y="248" width="4" height="7" fill="#e9f1d4"/>
<rect x="380" y="246" width="4" height="2" fill="#aad469"/>
<rect x="380" y="244" width="4" height="2" fill="#cee1a1"/>
<rect x="380" y="242" width="4" height="2" fill="#e9f1d4"/>
<rect x="384" y="263" width="3" height="2" fill="#49bd6c"/>
<rect x="384" y="261" width="3" height="2" fill="#440154"/>
<rect x="384" y="259" width="3" height="2" fill="#31688e"/>
<rect x="384" y="257" width="3" height="2" fill="#23978b"/>
<rect x="384" y="252" width="3" height="5" fill="#e9f1d4"/>
<rect x="384" y="250" width="3" height="2" fill="#cee1a1"/>
<rect x="384" y="246" width="3" height="2" fill="#74c757"/>
<rect x="387" y="265" width="4" height="2" fill="#49bd6c"/>
<rect x="387" y="263" width="4" height="2" fill="#440154"/>
<rect x="387" y="261" width="4" height="2" fill="#482777"/>
<rect x="387" y="259" width="4" height="2" fill="#74c757"/>
<rect x="387" y="253" width="4" height="4" fill="#cee1a1"/>
<rect x="387" y="248" width="4" height="4" fill="#cee1a1"/>
<rect x="391" y="267" width="3" height="2" fill="#e9f1d4"/>
<rect x="391" y="265" width="3" height="2" fill="#460e60"/>
<rect x="391" y="263" width="3" height="2" fill="#440154"/>
<rect x="391" y="261" width="3" height="2" fill="#297b8e"/>
<rect x="391" y="259" width="3" height="2" fill="#cee1a1"/>
<rect x="391" y="257" width="3" height="2" fill="#e9f1d4"/>
<rect x="391" y="253" width="3" height="2" fill="#cee1a1"/>
<rect x="391" y="250" width="3" height="2" fill="#e9f1d4"/>
<rect x="391" y="248" width="3" height="2" fill="#cee1a1"/>
<rect x="394" y="267" width="4" height="2" fill="#e9f1d4"/>
<rect x="394" y="265" width="4" height="2" fill="#440154"/>
<rect x="394" y="263" width="4" height="2" fill="#482777"/>
<rect x="394" y="261" width="4" height="2" fill="#297b8e"/>
<rect x="394" y="259" width="4" height="2" fill="#cee1a1"/>
<rect x="394" y="255" width="4" height="2" fill="#e9f1d4"/>
<rect x="394" y="252" width="4" height="1" fill="#cee1a1"/>
<rect x="394" y="248" width="4" height="2" fill="#cee1a1"/>
<rect x="398" y="267" width="3" height="2" fill="#e9f1d4"/>
<rect x="398" y="265" width="3" height="2" fill="#440154"/>
<rect x="398" y="263" width="3" height="2" fill="#482777"/>
<rect x="398" y="261" width="3" height="2" fill="#433f85"/>
<rect x="398" y="259" width="3" height="2" fill="#e9f1d4"/>
<rect x="398" y="257" width="3" height="2" fill="#cee1a1"/>
<rect x="398" y="246" width="3" height="7" fill="#e9f1d4"/>
<rect x="401" y="267" width="4" height="2" fill="#e9f1d4"/>
<rect x="401" y="265" width="4" height="2" fill="#23978b"/>
<rect x="401" y="263" width="4" height="2" fill="#440154"/>
<rect x="401" y="261" width="4" height="2" fill="#3a538b"/>
<rect x="401" y="259" width="4" height="2" fill="#49bd6c"/>
<rect x="401" y="255" width="4" height="4" fill="#e9f1d4"/>
<rect x="401" y="252" width="4" height="1" fill="#e9f1d4"/>
<rect x="401" y="244" width="4" height="6" fill="#e9f1d4"/>
<rect x="405" y="265" width="3" height="2" fill="#e9f1d4"/>
<rect x="405" y="263" width="3" height="2" fill="#433f85"/>
<rect x="405" y="261" width="3" height="2" fill="#440154"/>
<rect x="405" y="259" width="3" height="2" fill="#23978b"/>
<rect x="405" y="257" width="3" height="2" fill="#49bd6c"/>
<rect x="405" y="252" width="3" height="5" fill="#e9f1d4"/>
<rect x="405" y="246" width="3" height="2" fill="#cee1a1"/>
<rect x="405" y="244" width="3" height="2" fill="#e9f1d4"/>
<rect x="408" y="263" width="3" height="2" fill="#74c757"/>
<rect x="408" y="261" width="3" height="2" fill="#440154"/>
<rect x="408" y="259" width="3" height="2" fill="#27ac80"/>
<rect x="408" y="257" width="3" height="2" fill="#23978b"/>
<rect x="408" y="253" width="3" height="4" fill="#aad469"/>
<rect x="408" y="246" width="3" height="4" fill="#e9f1d4"/>
<rect x="408" y="244" width="3" height="2" fill="#cee1a1"/>
<rect x="411" y="263" width="4" height="2" fill="#e9f1d4"/>
<rect x="411" y="261" width="4" height="2" fill="#27ac80"/>
<rect x="411" y="259" width="4" height="2" fill="#440154"/>
<rect x="411" y="257" width="4" height="2" fill="#31688e"/>
<rect x="411" y="255" width="4" height="2" fill="#aad469"/>
<rect x="411" y="253" width="4" height="2" fill="#49bd6c"/>
<rect x="411" y="250" width="4" height="2" fill="#e9f1d4"/>
<rect x="411" y="242" width="4" height="4" fill="#cee1a1"/>
<rect x="415" y="261" width="3" height="2" fill="#e9f1d4"/>
<rect x="415" y="259" width="3" height="2" fill="#297b8e"/>
<rect x="415" y="257" width="3" height="2" fill="#440154"/>
<rect x="415" y="255" width="3" height="2" fill="#3a538b"/>
<rect x="415" y="250" width="3" height="5" fill="#cee1a1"/>
<rect x="415" y="248" width="3" height="2" fill="#e9f1d4"/>
<rect x="415" y="246" width="3" height="2" fill="#aad469"/>
<rect x="415" y="238" width="3" height="4" fill="#e9f1d4"/>
<rect x="418" y="257" width="4" height="2" fill="#23978b"/>
<rect x="418" y="255" width="4" height="2" fill="#31688e"/>
<rect x="418" y="253" width="4" height="2" fill="#482777"/>
<rect x="418" y="252" width="4" height="1" fill="#297b8e"/>
<rect x="418" y="250" width="4" height="2" fill="#e9f1d4"/>
<rect x="418" y="248" width="4" height="2" fill="#aad469"/>
<rect x="418" y="244" width="4" height="2" fill="#aad469"/>
<rect x="418" y="236" width="4" height="2" fill="#cee1a1"/>
<rect x="422" y="257" width="3" height="2" fill="#e9f1d4"/>
<rect x="422" y="255" width="3" height="2" fill="#297b8e"/>
<rect x="422" y="253" width="3" height="2" fill="#3a538b"/>
<rect x="422" y="252" width="3" height="1" fill="#482777"/>
<rect x="422" y="250" width="3" height="2" fill="#27ac80"/>
<rect x="422" y="248" width="3" height="2" fill="#aad469"/>
<rect x="422" y="246" width="3" height="2" fill="#e9f1d4"/>
<rect x="422" y="242" width="3" height="2" fill="#cee1a1"/>
<rect x="422" y="234" width="3" height="4" fill="#e9f1d4"/>
<rect x="425" y="255" width="4" height="2" fill="#aad469"/>
<rect x="425" y="253" width="4" height="2" fill="#297b8e"/>
<rect x="425" y="252" width="4" height="1" fill="#3a538b"/>
<rect x="425" y="250" width="4" height="2" fill="#482777"/>
<rect x="425" y="248" width="4" height="2" fill="#27ac80"/>
<rect x="425" y="244" width="4" height="2" fill="#cee1a1"/>
<rect x="425" y="240" width="4" height="4" fill="#e9f1d4"/>
<rect x="425" y="232" width="4" height="4" fill="#e9f1d4"/>
<rect x="429" y="253" width="3" height="2" fill="#49bd6c"/>
<rect x="429" y="252" width="3" height="1" fill="#297b8e"/>
<rect x="429" y="250" width="3" height="2" fill="#31688e"/>
<rect x="429" y="248" width="3" height="2" fill="#460e60"/>
<rect x="429" y="246" width="3" height="2" fill="#aad469"/>
<rect x="429" y="244" width="3" height="2" fill="#74c757"/>
<rect x="429" y="236" width="3" height="2" fill="#e9f1d4"/>
<rect x="429" y="230" width="3" height="4" fill="#e9f1d4"/>
<rect x="432" y="253" width="4" height="2" fill="#cee1a1"/>
<rect x="432" y="252" width="4" height="1" fill="#49bd6c"/>
<rect x="432" y="250" width="4" height="2" fill="#23978b"/>
<rect x="432" y="248" width="4" height="2" fill="#433f85"/>
<rect x="432" y="246" width="4" height="2" fill="#482777"/>
<rect x="432" y="244" width="4" height="2" fill="#cee1a1"/>
<rect x="432" y="242" width="4" height="2" fill="#aad469"/>
<rect x="432" y="230" width="4" height="6" fill="#e9f1d4"/>
<rect x="436" y="252" width="3" height="1" fill="#aad469"/>
<rect x="436" y="250" width="3" height="2" fill="#49bd6c"/>
<rect x="436" y="248" width="3" height="2" fill="#297b8e"/>
<rect x="436" y="246" width="3" height="2" fill="#31688e"/>
<rect x="436" y="244" width="3" height="2" fill="#460e60"/>
<rect x="436" y="242" width="3" height="2" fill="#cee1a1"/>
<rect x="436" y="238" width="3" height="2" fill="#cee1a1"/>
<rect x="436" y="234" width="3" height="4" fill="#e9f1d4"/>
<rect x="436" y="228" width="3" height="2" fill="#e9f1d4"/>
<rect x="439" y="250" width="4" height="2" fill="#74c757"/>
<rect x="439" y="246" width="4" height="4" fill="#27ac80"/>
<rect x="439" y="244" width="4" height="2" fill="#482777"/>
<rect x="439" y="242" width="4" height="2" fill="#23978b"/>
<rect x="439" y="240" width="4" height="2" fill="#49bd6c"/>
<rect x="439" y="236" width="4" height="4" fill="#cee1a1"/>
<rect x="439" y="228" width="4" height="2" fill="#e9f1d4"/>
<rect x="443" y="250" width="3" height="2" fill="#e9f1d4"/>
<rect x="443" y="248" width="3" height="2" fill="#74c757"/>
<rect x="443" y="246" width="3" height="2" fill="#49bd6c"/>
<rect x="443" y="244" width="3" height="2" fill="#31688e"/>
<rect x="443" y="242" width="3" height="2" fill="#433f85"/>
<rect x="443" y="240" width="3" height="2" fill="#297b8e"/>
<rect x="443" y="236" width="3" height="4" fill="#aad469"/>
<rect x="443" y="227" width="3" height="1" fill="#e9f1d4"/>
<rect x="446" y="244" width="4" height="4" fill="#74c757"/>
<rect x="446" y="242" width="4" height="2" fill="#23978b"/>
<rect x="446" y="240" width="4" height="2" fill="#433f85"/>
<rect x="446" y="238" width="4" height="2" fill="#3a538b"/>
<rect x="446" y="236" width="4" height="2" fill="#74c757"/>
<rect x="446" y="234" width="4" height="2" fill="#aad469"/>
<rect x="446" y="232" width="4" height="2" fill="#e9f1d4"/>
<rect x="446" y="225" width="4" height="2" fill="#e9f1d4"/>
<rect x="450" y="242" width="3" height="4" fill="#aad469"/>
<rect x="450" y="240" width="3" height="2" fill="#49bd6c"/>
<rect x="450" y="236" width="3" height="4" fill="#3a538b"/>
<rect x="450" y="234" width="3" height="2" fill="#297b8e"/>
<rect x="450" y="232" width="3" height="2" fill="#e9f1d4"/>
<rect x="450" y="230" width="3" height="2" fill="#aad469"/>
<rect x="450" y="228" width="3" height="2" fill="#e9f1d4"/>
<rect x="450" y="223" width="3" height="2" fill="#e9f1d4"/>
<rect x="453" y="242" width="4" height="4" fill="#aad469"/>
<rect x="453" y="240" width="4" height="2" fill="#49bd6c"/>
<rect x="453" y="236" width="4" height="4" fill="#3a538b"/>
<rect x="453" y="234" width="4" height="2" fill="#297b8e"/>
<rect x="453" y="232" width="4" height="2" fill="#e9f1d4"/>
<rect x="453" y="230" width="4" height="2" fill="#aad469"/>
<rect x="453" y="228" width="4" height="2" fill="#e9f1d4"/>
<rect x="453" y="223" width="4" height="2" fill="#e9f1d4"/>
<rect x="457" y="240" width="3" height="4" fill="#aad469"/>
<rect x="457" y="238" width="3" height="2" fill="#23978b"/>
<rect x="457" y="236" width="3" height="2" fill="#440154"/>
<rect x="457" y="234" width="3" height="2" fill="#297b8e"/>
<rect x="457" y="232" width="3" height="2" fill="#cee1a1"/>
<rect x="457" y="228" width="3" height="4" fill="#e9f1d4"/>
<rect x="457" y="227" width="3" height="1" fill="#cee1a1"/>
<rect x="457" y="225" width="3" height="2" fill="#e9f1d4"/>
<rect x="457" y="219" width="3" height="2" fill="#e9f1d4"/>
<rect x="460" y="240" width="3" height="4" fill="#aad469"/>
<rect x="460" y="238" width="3" height="2" fill="#23978b"/>
<rect x="460" y="236" width="3" height="2" fill="#440154"/>
<rect x="460" y="234" width="3" height="2" fill="#297b8e"/>
<rect x="460" y="232" width="3" height="2" fill="#cee1a1"/>
<rect x="460" y="228" width="3" height="4" fill="#e9f1d4"/>
<rect x="460" y="227" width="3" height="1" fill="#cee1a1"/>
<rect x="460" y="225" width="3" height="2" fill="#e9f1d4"/>
<rect x="460" y="219" width="3" height="2" fill="#e9f1d4"/>
<rect x="463" y="240" width="4" height="2" fill="#aad469"/>
<rect x="463" y="238" width="4" height="2" fill="#23978b"/>
<rect x="463" y="236" width="4" height="2" fill="#74c757"/>
<rect x="463" y="234" width="4" height="2" fill="#23978b"/>
<rect x="463" y="232" width="4" height="2" fill="#460e60"/>
<rect x="463" y="230" width="4" height="2" fill="#aad469"/>
<rect x="463" y="228" width="4" height="2" fill="#e9f1d4"/>
<rect x="463" y="227" width="4" height="1" fill="#cee1a1"/>
<rect x="463" y="225" width="4" height="2" fill="#e9f1d4"/>
<rect x="463" y="219" width="4" height="4" fill="#e9f1d4"/>
<rect x="463" y="217" width="4" height="2" fill="#cee1a1"/>
<rect x="467" y="240" width="3" height="2" fill="#aad469"/>
<rect x="467" y="238" width="3" height="2" fill="#23978b"/>
<rect x="467" y="236" width="3" height="2" fill="#74c757"/>
<rect x="467" y="234" width="3" height="2" fill="#23978b"/>
<rect x="467" y="232" width="3" height="2" fill="#460e60"/>
<rect x="467" y="230" width="3" height="2" fill="#aad469"/>
<rect x="467" y="228" width="3" height="2" fill="#e9f1d4"/>
<rect x="467" y="227" width="3" height="1" fill="#cee1a1"/>
<rect x="467" y="225" width="3" height="2" fill="#e9f1d4"/>
<rect x="467" y="219" width="3" height="4" fill="#e9f1d4"/>
<rect x="467" y="217" width="3" height="2" fill="#cee1a1"/>
<rect x="470" y="240" width="4" height="2" fill="#aad469"/>
<rect x="470" y="238" width="4" height="2" fill="#e9f1d4"/>
<rect x="470" y="236" width="4" height="2" fill="#aad469"/>
<rect x="470" y="234" width="4" height="2" fill="#49bd6c"/>
<rect x="470" y="232" width="4" height="2" fill="#440154"/>
<rect x="470" y="230" width="4" height="2" fill="#3a538b"/>
<rect x="470" y="228" width="4" height="2" fill="#cee1a1"/>
<rect x="470" y="227" width="4" height="1" fill="#aad469"/>
<rect x="470" y="221" width="4" height="2" fill="#e9f1d4"/>
<rect x="470" y="219" width="4" height="2" fill="#cee1a1"/>
<rect x="470" y="217" width="4" height="2" fill="#e9f1d4"/>
<rect x="474" y="240" width="3" height="2" fill="#aad469"/>
<rect x="474" y="238" width="3" height="2" fill="#e9f1d4"/>
<rect x="474" y="236" width="3" height="2" fill="#aad469"/>
<rect x="474" y="234" width="3" height="2" fill="#49bd6c"/>
<rect x="474" y="232" width="3" height="2" fill="#440154"/>
<rect x="474" y="230" width="3" height="2" fill="#3a538b"/>
<rect x="474" y="228" width="3" height="2" fill="#cee1a1"/>
<rect x="474" y="227" width="3" height="1" fill="#aad469"/>
<rect x="474" y="221" width="3" height="2" fill="#e9f1d4"/>
<rect x="474" y="219" width="3" height="2" fill="#cee1a1"/>
<rect x="474" y="217" width="3" height="2" fill="#e9f1d4"/>
<rect x="477" y="232" width="4" height="6" fill="#74c757"/>
<rect x="477" y="227" width="4" height="5" fill="#23978b"/>
<rect x="477" y="225" width="4" height="2" fill="#aad469"/>
<rect x="477" y="223" width="4" height="2" fill="#cee1a1"/>
<rect x="477" y="221" width="4" height="2" fill="#aad469"/>
<rect x="477" y="219" width="4" height="2" fill="#cee1a1"/>
<rect x="477" y="215" width="4" height="4" fill="#e9f1d4"/>
<rect x="481" y="232" width="3" height="6" fill="#74c757"/>
<rect x="481" y="227" width="3" height="5" fill="#23978b"/>
<rect x="481" y="225" width="3" height="2" fill="#aad469"/>
<rect x="481" y="223" width="3" height="2" fill="#cee1a1"/>
<rect x="481" y="221" width="3" height="2" fill="#aad469"/>
<rect x="481" y="219" width="3" height="2" fill="#cee1a1"/>
<rect x="481" y="215" width="3" height="4" fill="#e9f1d4"/>
<rect x="484" y="232" width="4" height="6" fill="#74c757"/>
<rect x="484" y="227" width="4" height="5" fill="#23978b"/>
<rect x="484" y="225" width="4" height="2" fill="#aad469"/>
<rect x="484" y="223" width="4" height="2" fill="#cee1a1"/>
<rect x="484" y="221" width="4" height="2" fill="#aad469"/>
<rect x="484" y="219" width="4" height="2" fill="#cee1a1"/>
<rect x="484" y="215" width="4" height="4" fill="#e9f1d4"/>
<rect x="488" y="232" width="3" height="6" fill="#74c757"/>
<rect x="488" y="227" width="3" height="5" fill="#23978b"/>
<rect x="488" y="225" width="3" height="2" fill="#aad469"/>
<rect x="488" y="223" width="3" height="2" fill="#cee1a1"/>
<rect x="488" y="221" width="3" height="2" fill="#aad469"/>
<rect x="488" y="219" width="3" height="2" fill="#cee1a1"/>
<rect x="488" y="215" width="3" height="4" fill="#e9f1d4"/>
<rect x="491" y="232" width="4" height="2" fill="#23978b"/>
<rect x="491" y="228" width="4" height="4" fill="#aad469"/>
<rect x="491" y="227" width="4" height="1" fill="#297b8e"/>
<rect x="491" y="225" width="4" height="2" fill="#49bd6c"/>
<rect x="491" y="223" width="4" height="2" fill="#297b8e"/>
<rect x="491" y="221" width="4" height="2" fill="#74c757"/>
<rect x="491" y="219" width="4" height="2" fill="#aad469"/>
<rect x="491" y="217" width="4" height="2" fill="#e9f1d4"/>
<rect x="491" y="215" width="4" height="2" fill="#aad469"/>
<rect x="495" y="232" width="3" height="2" fill="#23978b"/>
<rect x="495" y="228" width="3" height="4" fill="#aad469"/>
<rect x="495" y="227" width="3" height="1" fill="#297b8e"/>
<rect x="495" y="225" width="3" height="2" fill="#49bd6c"/>
<rect x="495" y="223" width="3" height="2" fill="#297b8e"/>
<rect x="495" y="221" width="3" height="2" fill="#74c757"/>
<rect x="495" y="219" width="3" height="2" fill="#aad469"/>
<rect x="495" y="217" width="3" height="2" fill="#e9f1d4"/>
<rect x="495" y="215" width="3" height="2" fill="#aad469"/>
<rect x="498" y="232" width="4" height="2" fill="#23978b"/>
<rect x="498" y="228" width="4" height="4" fill="#aad469"/>
<rect x="498" y="227" width="4" height="1" fill="#297b8e"/>
<rect x="498" y="225" width="4" height="2" fill="#49bd6c"/>
<rect x="498" y="223" width="4" height="2" fill="#297b8e"/>
<rect x="498" y="221" width="4" height="2" fill="#74c757"/>
<rect x="498" y="219" width="4" height="2" fill="#aad469"/>
<rect x="498" y="217" width="4" height="2" fill="#e9f1d4"/>
<rect x="498" y="215" width="4" height="2" fill="#aad469"/>
<rect x="502" y="232" width="3" height="2" fill="#23978b"/>
<rect x="502" y="228" width="3" height="4" fill="#aad469"/>
<rect x="502" y="227" width="3" height="1" fill="#297b8e"/>
<rect x="502" y="225" width="3" height="2" fill="#49bd6c"/>
<rect x="502" y="223" width="3" height="2" fill="#297b8e"/>
<rect x="502" y="221" width="3" height="2" fill="#74c757"/>
<rect x="502" y="219" width="3" height="2" fill="#aad469"/>
<rect x="502" y="217" width="3" height="2" fill="#e9f1d4"/>
<rect x="502" y="215" width="3" height="2" fill="#aad469"/>
<rect x="505" y="228" width="4" height="2" fill="#e9f1d4"/>
<rect x="505" y="225" width="4" height="3" fill="#74c757"/>
<rect x="505" y="221" width="4" height="4" fill="#23978b"/>
<rect x="505" y="219" width="4" height="2" fill="#27ac80"/>
<rect x="505" y="215" width="4" height="4" fill="#49bd6c"/>
<rect x="505" y="213" width="4" height="2" fill="#cee1a1"/>
<rect x="505" y="209" width="4" height="2" fill="#74c757"/>
<rect x="509" y="228" width="3" height="2" fill="#e9f1d4"/>
<rect x="509" y="225" width="3" height="3" fill="#74c757"/>
<rect x="509" y="221" width="3" height="4" fill="#23978b"/>
<rect x="509" y="219" width="3" height="2" fill="#27ac80"/>
<rect x="509" y="215" width="3" height="4" fill="#49bd6c"/>
<rect x="509" y="213" width="3" height="2" fill="#cee1a1"/>
<rect x="509" y="209" width="3" height="2" fill="#74c757"/>
<rect x="512" y="228" width="3" height="2" fill="#e9f1d4"/>
<rect x="512" y="225" width="3" height="3" fill="#74c757"/>
<rect x="512" y="221" width="3" height="4" fill="#23978b"/>
<rect x="512" y="219" width="3" height="2" fill="#27ac80"/>
<rect x="512" y="215" width="3" height="4" fill="#49bd6c"/>
<rect x="512" y="213" width="3" height="2" fill="#cee1a1"/>
<rect x="512" y="209" width="3" height="2" fill="#74c757"/>
<rect x="515" y="228" width="4" height="2" fill="#e9f1d4"/>
<rect x="515" y="225" width="4" height="3" fill="#74c757"/>
<rect x="515" y="221" width="4" height="4" fill="#23978b"/>
<rect x="515" y="219" width="4" height="2" fill="#27ac80"/>
<rect x="515" y="215" width="4" height="4" fill="#49bd6c"/>
<rect x="515" y="213" width="4" height="2" fill="#cee1a1"/>
<rect x="515" y="209" width="4" height="2" fill="#74c757"/>
<rect x="519" y="228" width="4" height="2" fill="#e9f1d4"/>
<rect x="519" y="225" width="4" height="3" fill="#74c757"/>
<rect x="519" y="221" width="4" height="4" fill="#23978b"/>
<rect x="519" y="219" width="4" height="2" fill="#27ac80"/>
<rect x="519" y="215" width="4" height="4" fill="#49bd6c"/>
<rect x="519" y="213" width="4" height="2" fill="#cee1a1"/>
<rect x="519" y="209" width="4" height="2" fill="#74c757"/>
</g>
<path class="g" d="M105.5 48V336M121.5 48V336M132.5 48V336M141.5 48V336M149.5 48V336M155.5 48V336M160.5 48V336M165.5 48V336M169.5 48V336M197.5 48V336M213.5 48V336M224.5 48V336M233.5 48V336M241.5 48V336M247.5 48V336M252.5 48V336M257.5 48V336M261.5 48V336M289.5 48V336M305.5 48V336M317.5 48V336M326.5 48V336M333.5 48V336M339.5 48V336M344.5 48V336M349.5 48V336M353.5 48V336M381.5 48V336M397.5 48V336M409.5 48V336M418.5 48V336M425.5 48V336M431.5 48V336M437.5 48V336M441.5 48V336M445.5 48V336M473.5 48V336M489.5 48V336M501.5 48V336M510.5 48V336M517.5 48V336M523.5 48V336M529.5 48V336M533.5 48V336M76.8 298.5H537.6M76.8 259.5H537.6M76.8 221.5H537.6M76.8 182.5H537.6M76.8 144.5H537.6M76.8 106.5H537.6M76.8 67.5H537.6"/>
<polyline class="mean" clip-path="url(#axclip)" points="104.54,224.12 108.01,220.86 111.48,218.42 114.95,216.71 118.41,214.64 121.88,206.12 125.35,203.82 128.82,202.91 132.29,201.83 135.75,200.55 139.22,199.43 142.69,198.64 146.16,197.86 149.63,197.08 153.09,197.28 156.56,198.26 160.03,200.73 163.50,203.66 166.96,207.71 170.43,211.72 173.90,215.52 177.37,219.23 180.84,222.72 184.30,225.84 187.77,228.62 191.24,230.64 194.71,232.36 198.18,234.04 201.64,235.55 205.11,237.06 208.58,238.64 212.05,240.39 215.51,242.08 218.98,243.71 222.45,245.33 225.92,246.86 229.39,248.25 232.85,249.64 236.32,250.77 239.79,251.81 243.26,252.46 246.73,252.82 250.19,252.99 253.66,253.10 257.13,252.69 260.60,251.91 264.06,250.03 267.53,247.75 271.00,245.83 274.47,243.88 277.94,241.89 281.40,239.88 284.87,237.29 288.34,234.69 291.81,232.15 295.28,229.63 298.74,227.10 302.21,224.88 305.68,222.63 309.15,220.13 312.61,217.63 316.08,215.20 319.55,212.59 323.02,209.88 326.49,207.31 329.95,205.34 333.42,204.46 336.89,205.21 340.36,207.58 343.83,211.29 347.29,215.14 350.76,219.70 354.23,225.38 357.70,231.64 361.16,237.80 364.63,242.13 368.10,245.32 371.57,247.97 375.04,250.40 378.50,252.94 381.97,255.54 385.44,258.14 388.91,260.52 392.38,261.88 395.84,262.25 399.31,262.11 402.78,261.24 406.25,260.10 409.72,258.85 413.18,257.48 416.65,255.91 420.12,253.06 423.59,251.77 427.05,250.39 430.52,248.93 433.99,247.35 437.46,245.62 440.93,244.23 444.39,242.67 447.86,240.30 451.33,237.48 454.80,236.79 458.27,236.14 461.73,235.33 465.20,233.46 468.67,232.77 472.14,232.24 475.60,231.39 479.07,228.74 482.54,228.66 486.01,228.57 489.48,227.94 492.94,225.59 496.41,225.53 499.88,225.47 503.35,225.41 506.82,220.15 510.28,219.94 513.75,219.88 517.22,219.82 520.69,219.76"/>
<g clip-path="url(#axclip)">
<polyline class="nm" points="168.96,127.68 200.52,139.02 215.51,164.16 252.19,182.40 314.55,140.16 322.20,137.28 334.79,145.92 343.85,169.91 370.56,182.40 381.02,217.91 496.13,193.93 629.76,105.87 721.92,45.14"/>
<polyline class="nm" points="168.96,274.56 190.20,272.06 224.45,272.06 252.19,276.87 269.73,266.30 296.16,237.40 319.50,222.91 325.54,222.90 332.83,238.08 353.28,266.40 360.58,271.19 371.08,263.29 384.66,292.81 399.33,307.19 413.48,312.00 431.16,312.00 445.84,307.20 462.72,307.18 492.98,311.98 517.15,306.01 629.76,243.61 721.92,150.01"/>
</g>
<path class="k" stroke-linecap="square" d="M77.5 48.5H538.5V336.5H77.5Z"/>
<path class="k" d="M77.5 336.5v5M169.5 336.5v5M261.5 336.5v5M353.5 336.5v5M445.5 336.5v5M538.5 336.5v5M77.5 336.5h-5M77.5 298.5h-5M77.5 259.5h-5M77.5 221.5h-5M77.5 182.5h-5M77.5 144.5h-5M77.5 106.5h-5M77.5 67.5h-5"/>
<path d="M105.5 336.5v3M121.5 336.5v3M132.5 336.5v3M141.5 336.5v3M149.5 336.5v3M155.5 336.5v3M160.5 336.5v3M165.5 336.5v3M197.5 336.5v3M213.5 336.5v3M224.5 336.5v3M233.5 336.5v3M241.5 336.5v3M247.5 336.5v3M252.5 336.5v3M257.5 336.5v3M289.5 336.5v3M305.5 336.5v3M317.5 336.5v3M326.5 336.5v3M333.5 336.5v3M339.5 336.5v3M344.5 336.5v3M349.5 336.5v3M381.5 336.5v3M397.5 336.5v3M409.5 336.5v3M418.5 336.5v3M425.5 336.5v3M431.5 336.5v3M437.5 336.5v3M441.5 336.5v3M473.5 336.5v3M489.5 336.5v3M501.5 336.5v3M510.5 336.5v3M517.5 336.5v3M523.5 336.5v3M529.5 336.5v3M533.5 336.5v3" stroke="#000" stroke-width="0.833" fill="none"/>
<text x="60.91" y="357.00" dx="1 -1 -0.25 0.25">0.01</text>
<text x="158.72" y="357.00" dx="0.25 -1 -0.05">0.1</text>
<text x="256.89" y="357.00">1</text>
<text x="344.26" y="357.00" dx="0.8 -1.05">10</text>
<text x="432.07" y="357.00" dx="1.05 -1.3 0">100</text>
<text x="519.97" y="357.00" dx="1.05 -1.05 -0.25 0">1000</text>
<text x="28.81" y="341.00" dx="1.3 -1.3 0 0">−200</text>
<text x="28.14" y="303.00" dx="0.8 -0.8 0 -0.25">−180</text>
<text x="28.13" y="265.00" dx="0.8 -0.8 0 -0.25">−160</text>
<text x="28.87" y="226.00" dx="1.05 -0.8 0 -0.25">−140</text>
<text x="28.88" y="188.00" dx="1.05 -0.8 0 -0.25">−120</text>
<text x="28.87" y="150.00" dx="1.05 -0.8 0 -0.25">−100</text>
<text x="36.95" y="111.00" dx="1.05 -0.8 -0.25">−80</text>
<text x="36.94" y="73.00" dx="1.05 -0.8 -0.25">−60</text>
<text x="274.53" y="376.00" dx="-0.5 -0.25 0.25 -0.25 0.25 0 0.5 -0.5 0 0">Period [s]</text>
<text transform="translate(16.93 269.53) rotate(-90)"><tspan x="0.00 8.37 16.86 28.20 36.74 42.44 46.86" y="0.00 0.00 0.00 0.00 0.00 0.00 0.00">Power [</tspan><tspan font-style="italic" x="52.27" y="0.00">m</tspan><tspan font-size="9.72px" x="66.44" y="-5.36">2</tspan><tspan x="73.00" y="0.00">/</tspan><tspan font-style="italic" x="77.67" y="0.00">s</tspan><tspan font-size="9.72px" x="85.55" y="-5.36">4</tspan><tspan x="92.12" y="0.00">/</tspan><tspan font-style="italic" x="96.54 106.97" y="0.00 0.00">Hz</tspan><tspan x="114.26 119.67 124.08 129.49 138.30 147.82" y="0.00 0.00 0.00 0.00 0.00 0.00">] [dB]</tspan></text>
<text class="t9" x="107.94" y="10.00" xml:space="preserve" style="white-space:pre">BK.CMB.00.HHN   2022-02-04 -- 2022-02-05  (45/45 segments)</text>
<text class="t9" x="187.75" y="25.00" textLength="239.12" lengthAdjust="spacing">sensor_type STS-7 sensor_sn STS7-BV</text>
<text class="t9" x="128.00" y="40.00" textLength="357.54" lengthAdjust="spacing">datalogger_type Q330HR-GFE datalogger_sn Q330HR-BV</text>
<rect x="566" y="245" width="5" height="91" fill="url(#cb)" shape-rendering="crispEdges"/>
<path class="k" stroke-linecap="square" d="M566.5 246.5H571.5V336.5H566.5Z"/>
<text x="591.03" y="342.00">0</text>
<text x="590.98" y="326.00">5</text>
<text x="590.06" y="311.00" dx="1.05 -1.3">10</text>
<text x="590.29" y="296.00" dx="0.8 -0.8">15</text>
<text x="591.01" y="281.00">20</text>
<text x="590.89" y="266.00">25</text>
<text x="590.14" y="251.00" dx="0.75 -1">30</text>
<path class="k" d="M581.5 336.5h5M581.5 321.5h5M581.5 306.5h5M581.5 291.5h5M581.5 276.5h5M581.5 261.5h5M581.5 246.5h5"/>
<text transform="translate(624.84 206.55) rotate(-90)">[%]</text>
<g shape-rendering="crispEdges">
<rect x="116" y="387" width="404" height="12" fill="#0000ff"/>
<rect x="116" y="379" width="408" height="8" fill="#008000"/>
</g>
<path class="k" stroke-linecap="square" d="M96.5 379.5H544.5V398.5H96.5Z"/>
<text transform="translate(113.97 418.30) rotate(-30)" text-anchor="end" textLength="61.8" lengthAdjust="spacing">02-05 00</text>
<text transform="translate(167.13 418.30) rotate(-30)" text-anchor="end" textLength="61.8" lengthAdjust="spacing">02-05 03</text>
<text transform="translate(218.80 418.30) rotate(-30)" text-anchor="end" textLength="61.8" lengthAdjust="spacing">02-05 06</text>
<text transform="translate(272.22 418.30) rotate(-30)" text-anchor="end" textLength="61.8" lengthAdjust="spacing">02-05 09</text>
<text transform="translate(325.13 418.30) rotate(-30)" text-anchor="end" textLength="61.8" lengthAdjust="spacing">02-05 12</text>
<text transform="translate(377.19 418.30) rotate(-30)" text-anchor="end" textLength="61.8" lengthAdjust="spacing">02-05 15</text>
<text transform="translate(430.21 418.30) rotate(-30)" text-anchor="end" textLength="61.8" lengthAdjust="spacing">02-05 18</text>
<text transform="translate(483.12 418.30) rotate(-30)" text-anchor="end" textLength="61.8" lengthAdjust="spacing">02-05 21</text>
<text transform="translate(535.29 418.30) rotate(-30)" text-anchor="end" textLength="61.8" lengthAdjust="spacing">02-06 00</text>
<path class="k" d="M116.5 398.5v5M169.5 398.5v5M222.5 398.5v5M274.5 398.5v5M327.5 398.5v5M380.5 398.5v5M432.5 398.5v5M485.5 398.5v5M538.5 398.5v5"/>
</svg>
</body></html>
